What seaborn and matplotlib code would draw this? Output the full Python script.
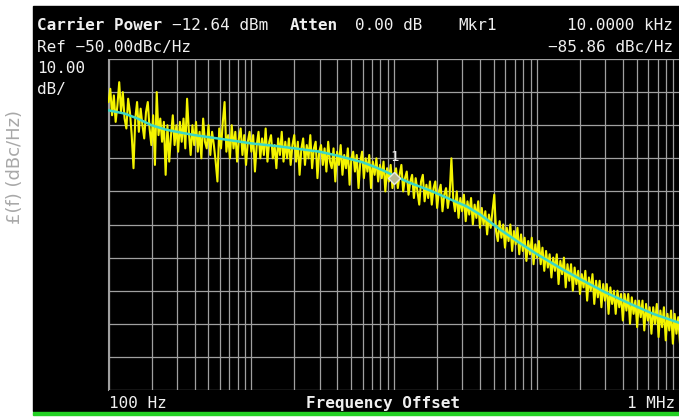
import numpy as np
import pandas as pd
import matplotlib
matplotlib.use("Agg")
import matplotlib.pyplot as plt
import matplotlib.patches as mpatches
from matplotlib.ticker import LogLocator, MultipleLocator, NullFormatter
import seaborn as sns

# ---------------------------------------------------------------------------
# Data
# ---------------------------------------------------------------------------

# smoothed trace (cyan)
SMOOTH_FREQ = [100, 130, 160, 200, 250, 300, 400, 500, 700, 1000, 1500, 2000,
               3000, 4000, 5000, 6000, 7000, 8500, 10000, 13000, 18000, 25000,
               32000, 40000, 55000, 75000, 100000, 150000, 200000, 300000,
               450000, 650000, 1000000]
SMOOTH_DB = [-65.5, -66.5, -68.0, -70.0, -71.3, -72.0, -73.0, -73.6, -74.5,
             -75.5, -76.3, -77.0, -78.0, -79.2, -80.3, -81.2, -82.3, -83.8,
             -85.3, -87.5, -89.8, -92.5, -94.5, -97.0, -101.5, -105.5, -109.0,
             -113.5, -116.5, -120.5, -124.0, -127.0, -129.8]

# raw trace (yellow), 80 sweep points per decade from 100 Hz to 1 MHz
RAW_DB = [
    # 100 Hz .. 1 kHz
    -63, -59, -67, -61, -69, -64, -57, -66, -60, -68, -71, -62, -66, -73, -83, -68, -63, -72, -65, -70,
    -74, -66, -63, -71, -76, -67, -82, -60, -73, -68, -75, -69, -85, -70, -81, -73, -67, -76, -70, -78,
    -69, -75, -68, -77, -62, -72, -79, -70, -76, -69, -78, -72, -80, -68, -75, -77, -70, -79, -72, -76,
    -81, -87, -71, -77, -69, -63, -78, -73, -80, -70, -77, -72, -81, -74, -71, -79, -73, -82, -75, -72,
    # 1 kHz .. 10 kHz
    -78, -73, -84, -76, -72, -80, -74, -79, -71, -81, -75, -73, -80, -76, -83, -74, -79, -72, -81, -75,
    -80, -74, -82, -76, -73, -81, -75, -85, -77, -74, -82, -76, -80, -73, -83, -77, -75, -86, -78, -76,
    -82, -77, -84, -75, -81, -83, -77, -87, -78, -82, -76, -85, -79, -83, -77, -88, -80, -78, -84, -79,
    -89, -81, -78, -86, -80, -84, -79, -89, -81, -85, -80, -87, -82, -86, -81, -90, -83, -87, -82, -89,
    # 10 kHz .. 100 kHz
    -85, -83, -89, -85, -82, -90, -86, -84, -91, -87, -85, -92, -86, -90, -94, -87, -85, -93, -88, -92,
    -87, -94, -89, -87, -95, -90, -88, -96, -91, -89, -95, -91, -80, -92, -96, -90, -98, -92, -96, -91,
    -99, -93, -97, -92, -100, -94, -98, -93, -101, -95, -100, -96, -103, -97, -101, -96, -91, -102, -105, -99,
    -104, -100, -107, -101, -105, -100, -108, -102, -106, -101, -109, -103, -108, -104, -111, -105, -109, -104, -112, -106,
    # 100 kHz .. 1 MHz
    -110, -105, -112, -107, -114, -108, -113, -109, -116, -110, -114, -109, -118, -111, -115, -110, -119, -112, -117, -112,
    -120, -113, -118, -114, -121, -115, -119, -114, -123, -116, -120, -115, -124, -117, -122, -117, -125, -118, -123, -118,
    -127, -119, -124, -120, -127, -120, -125, -121, -129, -121, -126, -121, -130, -122, -127, -123, -131, -123, -128, -123,
    -132, -124, -129, -125, -133, -125, -130, -124, -134, -126, -131, -125, -135, -127, -132, -126, -136, -127, -133, -128,
    -136,
]
RAW_FREQ = np.logspace(2, 6, len(RAW_DB))

MARKER_FREQ = 10000
MARKER_DB = -85.86

REF_LEVEL = -50
DB_PER_DIV = 10

W, H = 679, 418


def fx(px):
    return px / W


def fy(py):
    return 1 - py / H


# ---------------------------------------------------------------------------
# Figure
# ---------------------------------------------------------------------------

sns.set_style("dark")
plt.rcParams["font.family"] = ["DejaVu Sans Mono", "DejaVu Sans"]

fig = plt.figure(figsize=(W / 100, H / 100), dpi=100)
fig.patch.set_facecolor("white")

# black instrument screen + green strip below it
fig.patches.append(mpatches.Rectangle((fx(33), fy(411)), fx(W - 33), 405 / H,
                                      transform=fig.transFigure, color="black", zorder=-5))
fig.patches.append(mpatches.Rectangle((fx(33), fy(415)), fx(W - 33), 3.5 / H,
                                      transform=fig.transFigure, color="#22d022", zorder=-5))

ax = fig.add_axes([fx(108.5), fy(390), fx(680 - 108.5), (390 - 59) / H])
ax.set_facecolor("black")
ax.set_zorder(2)

raw = pd.DataFrame({"freq": RAW_FREQ, "db": RAW_DB})
smooth = pd.DataFrame({"freq": SMOOTH_FREQ, "db": SMOOTH_DB})

sns.lineplot(data=raw, x="freq", y="db", color="#f4f400", linewidth=1.5,
             estimator=None, ax=ax, zorder=3)
sns.lineplot(data=smooth, x="freq", y="db", color="#3cd8c4", linewidth=1.8,
             estimator=None, ax=ax, zorder=4)

ax.plot([MARKER_FREQ], [MARKER_DB], marker="D", markersize=6.5,
        markerfacecolor="#b8b890", markeredgecolor="#e8e8e8", markeredgewidth=1,
        zorder=5)
ax.text(MARKER_FREQ, MARKER_DB + 4, "1", color="#e8e8e8", fontsize=10,
        ha="center", va="bottom", zorder=6)

ax.set_xscale("log")
ax.set_xlim(100, 1e6)
ax.set_ylim(REF_LEVEL - 10 * DB_PER_DIV, REF_LEVEL)
ax.xaxis.set_major_locator(LogLocator(base=10, subs=np.arange(1, 10)))
ax.xaxis.set_minor_locator(LogLocator(base=10, subs=np.arange(1, 10)))
ax.yaxis.set_major_locator(MultipleLocator(DB_PER_DIV))
ax.xaxis.set_major_formatter(NullFormatter())
ax.xaxis.set_minor_formatter(NullFormatter())
ax.set_yticklabels([])
ax.tick_params(length=0, which="both")
ax.grid(True, which="both", color="#a0a0a0", linewidth=0.9)
ax.set_axisbelow(True)
ax.set_xlabel("")
ax.set_ylabel("")
for side in ("top", "right", "bottom"):
    ax.spines[side].set_visible(False)
ax.spines["left"].set_color("#a0a0a0")

# ---------------------------------------------------------------------------
# Screen annotations
# ---------------------------------------------------------------------------

txt = dict(color="#f0f0f0", fontsize=11.5, va="baseline")
fig.text(fx(37), fy(30), "Carrier Power", fontweight="bold", **txt)
fig.text(fx(172), fy(30), "\u221212.64 dBm", **txt)
fig.text(fx(290), fy(30), "Atten", fontweight="bold", **txt)
fig.text(fx(355), fy(30), "0.00 dB", **txt)
fig.text(fx(458), fy(30), "Mkr1", **txt)
fig.text(fx(673), fy(30), "10.0000 kHz", ha="right", **txt)
fig.text(fx(37), fy(52), "Ref \u221250.00dBc/Hz", **txt)
fig.text(fx(673), fy(52), "\u221285.86 dBc/Hz", ha="right", **txt)
fig.text(fx(37), fy(73), "10.00", **txt)
fig.text(fx(37), fy(94), "dB/", **txt)
fig.text(fx(109), fy(408), "100 Hz", **txt)
fig.text(fx(383), fy(408), "Frequency Offset", fontweight="bold", ha="center", **txt)
fig.text(fx(675), fy(408), "1 MHz", ha="right", **txt)

fig.text(fx(15), fy(167), "\u00a3(f) (dBc/Hz)", rotation=90, color="#a8a8a8",
         fontsize=13, ha="center", va="center", family="DejaVu Sans")

fig.savefig("out.png", dpi=100, facecolor=fig.get_facecolor())
